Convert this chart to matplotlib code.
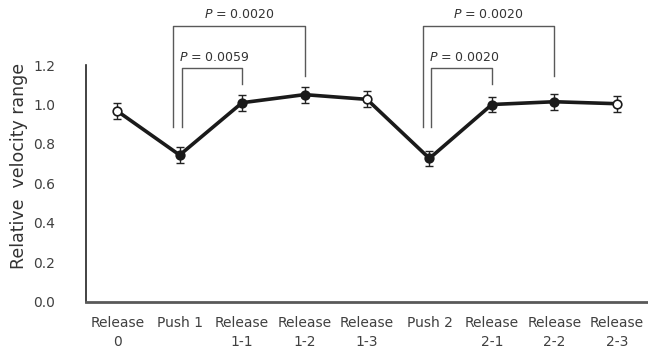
import matplotlib.pyplot as plt
import numpy as np

plt.rcParams["font.family"] = ["DejaVu Sans"]

labels = ["Release\n0", "Push 1", "Release\n1-1", "Release\n1-2", "Release\n1-3",
          "Push 2", "Release\n2-1", "Release\n2-2", "Release\n2-3"]
values = [0.967, 0.744, 1.009, 1.050, 1.026, 0.727, 1.000, 1.014, 1.004]
errors = [0.040, 0.040, 0.040, 0.040, 0.040, 0.040, 0.040, 0.040, 0.040]
filled = [False, True, True, True, False, True, True, True, False]

# (left index, right index, p-value text, top y, right leg bottom, left x shift)
brackets = [
    (1, 3, "0.0020", 1.399, 1.144, -0.10),
    (1, 2, "0.0059", 1.183, 1.102, 0.03),
    (5, 7, "0.0020", 1.399, 1.144, -0.10),
    (5, 6, "0.0020", 1.183, 1.102, 0.03),
]
leg_bottom = 0.888

fig = plt.figure(figsize=(6.48, 3.55), dpi=100)
ax = fig.add_axes([0.1327, 0.1493, 0.8673, 0.6676])

x = np.arange(len(values))
ax.errorbar(x, values, yerr=errors, fmt="none", ecolor="#222222",
            elinewidth=1.0, capsize=3, capthick=1.0, zorder=2)
ax.plot(x, values, color="#1a1a1a", lw=2.6, zorder=3)
for xi, v, f in zip(x, values, filled):
    ax.plot(xi, v, "o", ms=6.2, mec="#1a1a1a", mew=1.2,
            mfc="#1a1a1a" if f else "white", zorder=4)

for i, j, p, top, rbot, shift in brackets:
    xl = i + shift
    ax.plot([xl, xl, j, j], [leg_bottom, top, top, rbot], color="#595959",
            lw=1.0, clip_on=False, zorder=1)
    if shift < 0:
        ax.text((xl + j) / 2, top + 0.022, "$P$ = " + p, ha="center", va="bottom",
                fontsize=9, color="#333333", clip_on=False)
    else:
        ax.text(xl - 0.04, top + 0.022, "$P$ = " + p, ha="left", va="bottom",
                fontsize=9, color="#333333", clip_on=False)

ax.set_xlim(-0.5, len(values) - 0.5)
ax.set_ylim(0, 1.2)
ax.set_yticks(np.arange(0, 1.21, 0.2))
ax.set_yticklabels([f"{t:.1f}" for t in np.arange(0, 1.21, 0.2)])
ax.set_xticks(x)
ax.set_xticklabels(labels, linespacing=1.5)
ax.tick_params(axis="y", length=0, pad=22, labelsize=10, labelcolor="#404040")
ax.tick_params(axis="x", length=0, pad=10, labelsize=10, labelcolor="#404040")
ax.set_ylabel("Relative  velocity range", fontsize=12.5, color="#333333")
ax.yaxis.set_label_coords(-0.103, 0.572)

for s in ["top", "right"]:
    ax.spines[s].set_visible(False)
ax.spines["left"].set_color("#222222")
ax.spines["left"].set_linewidth(1.2)
ax.spines["bottom"].set_color("#595959")
ax.spines["bottom"].set_linewidth(2.0)

fig.savefig("out.png", dpi=100)
